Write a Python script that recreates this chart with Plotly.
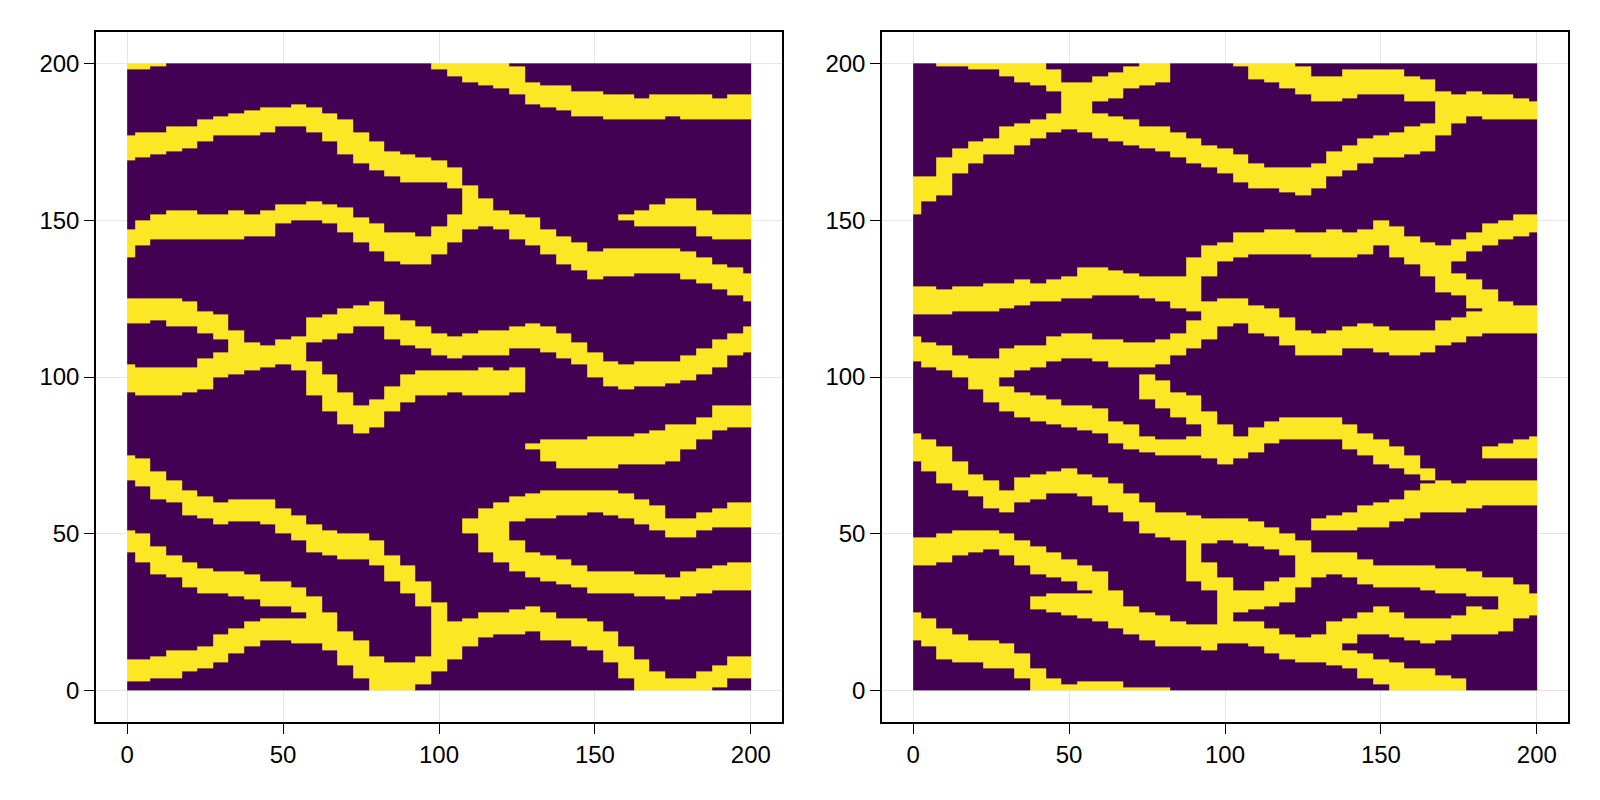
import numpy as np
import plotly.graph_objects as go
from plotly.subplots import make_subplots

# channels at every 5 units of x: first x, lower edges, upper edges
STEP = 5

a_x0 = 0
a_lo = [198, 198, 199]
a_hi = [200, 200, 200]

b_x0 = 0
b_lo = [168.7, 170, 171, 172, 172.9, 174.9, 176.7, 176.7, 176.7, 178, 179.9, 179.5, 178, 174.9, 171, 167.8, 165.9, 164, 161.9, 161.9, 161.9, 159.5, 153.1, 148.4, 146.8, 144.1, 142, 139.3, 136.2, 133.5, 131.4, 131.9, 131.9, 132.8, 133, 133, 131.4, 129.8, 128.2, 126.1, 124.5]
b_hi = [176.7, 177.9, 177.9, 179.8, 179.9, 181.8, 182.8, 183.7, 185, 186, 186, 186.9, 186, 184, 181.6, 178, 174.9, 172, 171, 169.9, 168.7, 166.7, 160.8, 157.4, 152.7, 151.9, 150.8, 146.8, 144.9, 143, 139.9, 140.9, 140.9, 140.9, 140.9, 140.9, 139.8, 137.8, 135.9, 134.9, 133]

c_x0 = 0
c_lo = [137.9, 141.5, 143.8, 143.6, 143.8, 143.8, 143.8, 143.8, 144.6, 144.9, 149.4, 150, 150, 149.4, 146.2, 143, 139.9, 136.7, 136, 136, 139.1, 142.7, 147.3]
c_hi = [146.8, 150, 151.9, 152.7, 152.7, 151.9, 151.9, 152.7, 151.9, 152.7, 154.6, 154.7, 156, 154.7, 153.7, 151.3, 148.9, 146.2, 145.7, 145.2, 148, 151.9, 153.7]

d_x0 = 0
d_lo = [116.8, 116.8, 117.8, 116.5, 116, 113.9, 111.7]
d_hi = [124.8, 124.8, 124.8, 124.8, 123.7, 121, 119.7]

e_x0 = 0
e_lo = [95, 94, 94, 94, 95, 96.4, 100, 101, 102, 102.7, 104, 101.7]
e_hi = [104, 102.7, 102.7, 102.7, 102.7, 105.9, 108, 114.9, 110.7, 109.8, 111.7, 113]

f_x0 = 60
f_lo = [110.7, 112, 114.4, 116, 116.5, 112.3, 110.2, 108.9, 106.6, 106.2, 107, 107, 107, 108.6, 109, 108, 106.4, 103.8, 99.8, 96.6, 95.8, 97.2, 97.2, 98, 99, 100.6, 103, 107, 107.5]
f_hi = [118.6, 120.2, 122.4, 123.2, 124, 120.2, 117.9, 116.5, 113.9, 113, 113.9, 114.9, 114.9, 116.5, 116.8, 115.5, 113.9, 110.7, 108, 104.8, 104.1, 104.8, 104.8, 105.2, 107.3, 108.9, 112.3, 114.4, 116]

g_x0 = 60
g_lo = [94.2, 88.9, 84.7, 82.2, 84.2, 89, 92.3, 93.7, 94.2, 94.8, 94, 94, 94, 95]
g_hi = [104.8, 100.6, 94.8, 91, 93.2, 97.4, 100.6, 101.7, 102.2, 101.9, 101.9, 102.7, 101.9, 102.7]

h_x0 = 160
h_lo = [150, 148, 148, 148, 147.8, 145.2, 144.1, 144.1, 144.1]
h_hi = [151.9, 152.7, 154.7, 157.4, 157.4, 152.7, 151.9, 151.9, 151.9]

i_x0 = 100
i_lo = [197.7, 195.8, 194.5, 193.3, 191.9, 189.8, 186.6, 185.5, 185, 183.4, 182.9, 182, 182, 182, 182, 182.7, 182, 182, 182, 182, 182]
i_hi = [200, 200, 200, 200, 200, 198.8, 194.5, 193, 193, 190.8, 190.6, 189.8, 189.8, 188.9, 189.8, 190.5, 189.8, 189.8, 188.9, 189.8, 189.8]

j_x0 = 0
j_lo = [66.9, 64.7, 61.1, 60.3, 56, 55, 53.4, 54.1, 54.1, 52.8, 49.7, 48, 44.4, 43.1, 42, 41.7, 39.6, 34.8, 31.1, 26.8, 6.1]
j_hi = [75.1, 73.5, 70, 66.6, 64.3, 62.2, 60.3, 61.1, 61.1, 61.1, 58.1, 56, 53.4, 50.9, 49.9, 49.9, 48.4, 42.8, 40.1, 34.8, 28.2]

k_x0 = 0
k_lo = [3.2, 3.2, 4.2, 4.2, 6.1, 7, 9.3, 12, 13.8, 16.2, 16.2, 15.2]
k_hi = [10.2, 10.2, 11.1, 13, 13, 13.6, 18, 19.9, 22, 23.1, 23.1, 23.3]

l_x0 = 0
l_lo = [43.8, 41.2, 37.1, 35.9, 33.2, 31.3, 31.1, 30, 29, 27.4, 26.8, 25, 15.2, 13, 8.3, 4, 0, 0, 0, 2]
l_hi = [50.9, 49.7, 46.5, 43.3, 40.6, 38.8, 38.2, 37.5, 37, 35.3, 34.6, 32.7, 29.5, 24.7, 19.4, 15.7, 11.2, 8.8, 8.8, 11.4]

m_x0 = 105
m_lo = [10.4, 13.8, 17, 18, 18, 18.9, 16.5, 15.5, 13.6, 13, 9.3, 3.5, 0, 0, 0, 0, 0, 1, 3.5, 4]
m_hi = [22.1, 23.1, 24.7, 25.2, 25.5, 26.8, 25.2, 23.3, 23.1, 22, 19.4, 13.6, 9.8, 5.6, 3.5, 4, 5.6, 8.3, 10.9, 10.9]

n_x0 = 110
n_lo = [49.7, 44.4, 41.2]
n_hi = [55, 57.6, 60]

o_x0 = 125
o_lo = [53.9, 55, 55, 55.8, 56, 56.6, 55.8, 54.8, 53.4, 51.3, 49.1, 49, 50.7, 51.8, 52, 52]
o_hi = [61.9, 63.3, 64, 64, 64, 64, 64, 62.9, 61.3, 59.2, 55, 55, 56.9, 58, 60, 60]

p_x0 = 125
p_lo = [37.5, 35.9, 34.8, 34.3, 32.7, 31.1, 31.1, 31.1, 30, 30, 29, 30, 31.1, 32.1, 32.1, 32.1]
p_hi = [47.5, 44.4, 43.1, 42, 40.1, 38.3, 38.3, 38.3, 36.9, 36.9, 36, 38.2, 39, 40.1, 41, 41]

q_x0 = 130
q_lo = [77.3, 73, 71.1, 71.1, 71.1, 71.1, 72.2, 72.2, 72.2, 73, 77.3, 79.9, 83.1, 84.2, 84.2]
q_hi = [78.9, 79.9, 79.9, 79.9, 81, 81, 81, 82, 83.1, 84.7, 84.9, 86.8, 90.8, 91, 91]

# right panel
a2_x0 = 10
a2_lo = [198.8, 198.8, 197.7, 197.5, 195.6, 194, 193.2, 190.8, 178.8, 177.6]
a2_hi = [200, 200, 200, 200, 200, 200, 200, 198.3, 193.5, 194]

r2_x0 = 60
r2_lo = [188.2, 189.2, 191.9, 193, 193.5]
r2_hi = [195.8, 197.2, 198.8, 200, 200]

s2_x0 = 0
s2_lo = [152.1, 156.3, 158.2, 165.4, 168.5, 170.7, 171.2, 173.8, 176, 177.6]
s2_hi = [164, 164, 169.9, 173.3, 174.9, 176.5, 179.7, 180.7, 181.8, 183.9]

t2_x0 = 60
t2_lo = [176.3, 175.4, 173.8, 172.8, 172, 170.3, 168.5, 166.9, 165, 162, 160, 159.7, 158.7, 158.2, 160, 163.8, 165.9, 167.8, 169.9, 169.9, 170.7, 171.7]
t2_hi = [184.5, 182.9, 181.6, 180.2, 179.5, 178.1, 176, 173.8, 173.3, 171.2, 167.8, 167, 166.7, 166.7, 168, 172.3, 173.8, 176, 176.7, 177.8, 180.2, 181]

u2_x0 = 105
u2_lo = [198.8, 195, 194, 192.4, 189.8, 188, 188, 189, 189.8, 190.5, 190.3, 188.2, 187.6, 177, 180.7, 182.9, 182, 182, 182, 182]
u2_hi = [200, 200, 200, 200, 199, 195.8, 195.8, 197.5, 197.7, 198.3, 197.7, 196.5, 195, 191.4, 189.8, 190.6, 189.8, 189.8, 189, 188.2]

v2_x0 = 0
v2_lo = [120, 120, 120, 120.8, 121, 121, 121.8, 122.9, 123.6, 124, 124.7, 124.7, 126, 126, 126, 124.7, 124, 121.8, 121.3]
v2_hi = [128.9, 128.9, 128, 128.9, 128.9, 129.9, 129.9, 130.9, 130, 130.9, 132.4, 135, 134.6, 134, 132.8, 131.9, 131.9, 131.9, 137.8]

x2_x0 = 95
x2_lo = [132.4, 136.7, 138, 138.8, 138.8, 138.8, 138.8, 138, 138, 138, 139.1, 142.5, 137.8, 136.2, 131.9, 127.1, 126.1, 122.4, 113.9, 113.9, 113.9, 113.9]
x2_hi = [141.5, 143, 145.7, 145.9, 146.8, 146.8, 145.9, 145.7, 146.8, 145.9, 146.8, 150, 148.4, 145.2, 143, 142, 132.8, 130.9, 127.7, 124, 122.9, 122.9]

y2_x0 = 175
y2_lo = [137.2, 139.9, 141.5, 143.6, 145.2, 145.6]
y2_hi = [143.6, 145.9, 149.4, 150.5, 151.9, 152]

w2_x0 = 0
w2_lo = [104.8, 102.7, 102, 99.6, 96.4, 92.1]
w2_hi = [113, 110.7, 109.6, 107, 105.9, 105.9]

aa2_x0 = 30
aa2_lo = [100, 101.9, 103.2, 104.8, 106.4, 105.9, 105.2, 103.2, 102.7, 102.7, 103.8, 107, 109.1, 112.3, 116, 116.8, 113.9, 113, 109.6, 106.6, 107, 107, 108.6, 109, 108, 107, 107, 108, 110.1, 110.7, 113.3]
aa2_hi = [108.6, 109.6, 110.1, 112.8, 113.7, 113.7, 112, 112, 110.7, 110.7, 112, 114.4, 117.6, 123.9, 124.7, 124.7, 122.9, 121.8, 119.2, 114.9, 114.4, 115.1, 116.5, 116.8, 115.5, 114.9, 114.9, 114.9, 117.9, 119.2, 121.3]

bb2_x0 = 30
bb2_lo = [89.1, 87.3, 86, 84.9, 83.8, 83.1, 82, 79.4, 77.3, 76, 75.1, 75.1, 75.1, 73.5, 72.5, 73.5, 75.7, 78.9, 79.9, 79.9, 79.9, 79.9, 77.3, 75.1, 72.2, 70.9, 69.3, 66.6]
bb2_hi = [97.2, 94.8, 93.7, 92.7, 91, 91, 90, 86.3, 84.9, 81, 79.9, 79.9, 81, 89, 84.7, 81, 83.6, 86.3, 86.8, 86.8, 86.8, 86.8, 84.9, 82, 79.9, 78.3, 75.4, 70.9]

wedge2_x0 = 75
wedge2_lo = [93.2, 90.5, 87.3, 85.2]
wedge2_hi = [100.6, 99, 95.3, 93.7]

cc2_x0 = 130
cc2_lo = [51, 51, 51, 51.8, 51.8, 54.1, 55.2, 56.6, 57.3, 57.1, 57.9, 58.7, 58.7, 58.7, 58.7]
cc2_hi = [54.8, 56, 56.9, 58.7, 60, 61.1, 63.7, 65.6, 67.2, 65.8, 66.9, 66.9, 66.9, 66.9, 66.9]

dd2_x0 = 185
dd2_lo = [74, 73.9, 73.9, 73.9]
dd2_hi = [77.8, 78.9, 79.9, 81]

ee2_x0 = 0
ee2_lo = [73, 69.8, 66.1, 64, 61.9, 58.2, 57.1, 60.1, 61.3, 63.1, 63.1, 61.9, 59.2, 56.6, 53.9, 49.7, 49.1, 47.5, 34.8]
ee2_hi = [82, 80, 77.8, 73, 69.3, 66.6, 64.5, 67.7, 69, 70, 70.9, 69.3, 67.7, 65.6, 62.9, 60.3, 57.1, 56.6, 56]

ff2_x0 = 95
ff2_lo = [47.2, 47.5, 47.2, 46.5, 44.9, 42.8, 32.7, 35.9, 37, 35.9, 34.3, 32.9, 33.2, 33.2, 32.1, 31.1, 31.1, 30, 30, 19.4, 23, 24]
ff2_hi = [55, 55, 54.8, 53.9, 52, 50.2, 47.5, 43.8, 43.8, 43.8, 42.4, 40.1, 40.1, 40.1, 40.1, 39.3, 39.3, 38, 36.4, 35.9, 33.7, 31.1]

hh2_x0 = 135
hh2_lo = [7.7, 14.8, 18, 18.3, 17.3, 16.2, 15.2, 16.2, 17.8, 18.3, 18.3]
hh2_hi = [21.5, 23.1, 25, 26.8, 24.7, 23.3, 23.3, 23.3, 23.7, 26.8, 26.3]

ii2_x0 = 140
ii2_lo = [6.7, 4.5, 2.4, 0, 0, 0, 0, 0]
ii2_hi = [13, 12.5, 10.4, 9.3, 7, 7, 5, 3.5]

kk2_x0 = 0
kk2_lo = [40.1, 40.1, 41.2, 43.1, 43.8, 45.2, 43.3, 39.6, 37.1, 35.9, 34.8, 32.1, 21.5, 19.9, 18.3, 16.2, 14.1, 14.1, 14.1, 13, 14.6, 14.6, 14.1, 12, 10.4, 9.3, 8.8]
kk2_hi = [49, 49, 49.9, 50.9, 50.9, 50.9, 49.7, 47.5, 45.6, 43.8, 42.2, 40.1, 37.5, 31.6, 26.8, 24.7, 23.7, 22, 21, 21, 35.8, 22, 21.5, 19.9, 18.3, 16.8, 17.8]

ll2_x0 = 40
ll2_lo = [25.8, 24.7, 24.2, 23.1]
ll2_hi = [30, 31.1, 31.1, 31.1]

mm2_x0 = 95
mm2_lo = [31.6]
mm2_hi = [41.2]

arm2_x0 = 105
arm2_lo = [24.7, 25.8, 27.4, 28.4]
arm2_hi = [32.1, 32.1, 34.8, 35.9]

nn2_x0 = 0
nn2_lo = [16.2, 14.1, 10.4, 9.3, 8.8, 7.4, 6.7, 3.5, 0, 0, 0, 0, 0, 0, 0, 0, 0]
nn2_hi = [25.2, 23.1, 20, 17.8, 16.2, 16.2, 15.2, 12, 7, 4, 2.4, 3.2, 3.2, 3.2, 1, 1, 1]

left_channels = [
    (a_x0, a_lo, a_hi), (b_x0, b_lo, b_hi), (c_x0, c_lo, c_hi), (d_x0, d_lo, d_hi),
    (e_x0, e_lo, e_hi), (f_x0, f_lo, f_hi), (g_x0, g_lo, g_hi), (h_x0, h_lo, h_hi),
    (i_x0, i_lo, i_hi), (j_x0, j_lo, j_hi), (k_x0, k_lo, k_hi), (l_x0, l_lo, l_hi),
    (m_x0, m_lo, m_hi), (n_x0, n_lo, n_hi), (o_x0, o_lo, o_hi), (p_x0, p_lo, p_hi),
    (q_x0, q_lo, q_hi),
]
right_channels = [
    (a2_x0, a2_lo, a2_hi), (r2_x0, r2_lo, r2_hi), (s2_x0, s2_lo, s2_hi), (t2_x0, t2_lo, t2_hi),
    (u2_x0, u2_lo, u2_hi), (v2_x0, v2_lo, v2_hi), (x2_x0, x2_lo, x2_hi), (y2_x0, y2_lo, y2_hi),
    (w2_x0, w2_lo, w2_hi), (aa2_x0, aa2_lo, aa2_hi), (bb2_x0, bb2_lo, bb2_hi),
    (wedge2_x0, wedge2_lo, wedge2_hi), (cc2_x0, cc2_lo, cc2_hi), (dd2_x0, dd2_lo, dd2_hi),
    (ee2_x0, ee2_lo, ee2_hi), (ff2_x0, ff2_lo, ff2_hi), (hh2_x0, hh2_lo, hh2_hi),
    (ii2_x0, ii2_lo, ii2_hi), (kk2_x0, kk2_lo, kk2_hi), (ll2_x0, ll2_lo, ll2_hi),
    (mm2_x0, mm2_lo, mm2_hi), (arm2_x0, arm2_lo, arm2_hi), (nn2_x0, nn2_lo, nn2_hi),
]

tick_vals = [0, 50, 100, 150, 200]

# cell edges: columns sit on the stations, rows are one unit high
x_edges = [0] + [x + STEP / 2 for x in range(0, 200, STEP)] + [200]
y_edges = list(range(0, 201))


def build_mask(channels):
    z = np.zeros((200, 41))
    for x0, lows, highs in channels:
        for i, (lo, hi) in enumerate(zip(lows, highs, strict=True)):
            col = x0 // STEP + i
            z[int(round(lo)):int(round(hi)), col] = 1
    return z


fig = make_subplots(rows=1, cols=2)
for col, channels in enumerate([left_channels, right_channels], start=1):
    fig.add_trace(
        go.Heatmap(
            x=x_edges,
            y=y_edges,
            z=build_mask(channels),
            zmin=0,
            zmax=1,
            colorscale=[[0, "#440154"], [1, "#fde725"]],
            showscale=False,
        ),
        row=1,
        col=col,
    )

axis_style = dict(
    range=[-10, 210],
    tickvals=tick_vals,
    ticks="outside",
    ticklen=10,
    tickwidth=1.3,
    tickcolor="black",
    showgrid=True,
    gridcolor="#e6e6e6",
    gridwidth=1.3,
    zeroline=False,
    showline=True,
    linecolor="black",
    linewidth=1.5,
    mirror=True,
    tickfont=dict(family="Liberation Sans", size=24, color="black"),
)
fig.update_xaxes(**axis_style)
fig.update_yaxes(**axis_style)

# the page adds 8px of body margin, so the domains sit 8px up and left of the target
fig.update_layout(
    width=1600,
    height=800,
    paper_bgcolor="white",
    plot_bgcolor="white",
    showlegend=False,
    margin=dict(l=0, r=0, t=0, b=0),
    xaxis=dict(domain=[88 / 1600, 774 / 1600]),
    xaxis2=dict(domain=[874 / 1600, 1560 / 1600]),
    yaxis=dict(domain=[86 / 800, 776 / 800]),
    yaxis2=dict(domain=[86 / 800, 776 / 800]),
)

fig.write_html("out.html")
